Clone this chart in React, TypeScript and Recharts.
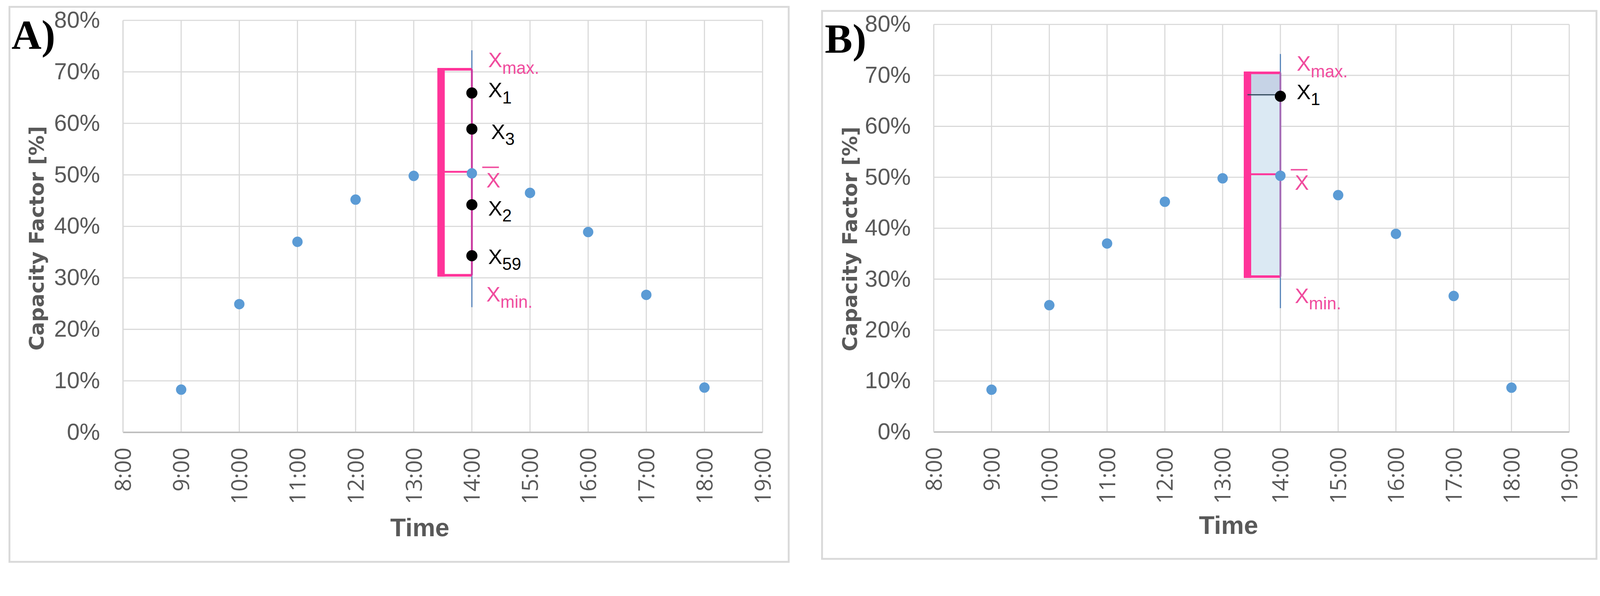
import React from "react";
import {
  ScatterChart, Scatter, XAxis, YAxis, CartesianGrid,
  ReferenceLine, ReferenceDot, ReferenceArea,
} from "recharts";

// hourly capacity factor, same day in both panels
const hours = [9, 10, 11, 12, 13, 14, 15, 16, 17, 18];
const capacity = [8.3, 24.9, 37.0, 45.2, 49.8, 50.3, 46.5, 38.9, 26.7, 8.7];

const hourTicks = [8, 9, 10, 11, 12, 13, 14, 15, 16, 17, 18, 19];
const percentTicks = [0, 10, 20, 30, 40, 50, 60, 70, 80];

// 14:00 sample distribution
const sampleNames = ["1", "3", "2", "59"];
const sampleValues = [65.9, 58.9, 44.2, 34.3];
const xMaxValue = 70.5;
const xMinValue = 30.5;
const xMeanValue = 50.6;
const spreadRange = [24.3, 74.2];
const focusHour = 14;

const points = hours.map((h, i) => ({ hour: h, cf: capacity[i] }));

const C = {
  grid: "#d9d9d9",
  axis: "#bfbfbf",
  text: "#595959",
  dot: "#5b9bd5",
  spread: "#4f7fb8",
  pink: "#ff3399",
  pinkText: "#f04c9e",
  magenta: "#c8389f",
  purple: "#a56cb6",
  fill: "#dbe9f3",
  fillTop: "#c6d3e6",
};

const NARROW = "'Liberation Sans Narrow', 'Liberation Sans', Arial, sans-serif";

// the page is laid out in reference pixels and scaled to the viewport
const PAGE_SCALE = 4096 / 4318;

function HourTick({ x, y, payload }: any) {
  return (
    <text x={x} y={y} transform={`rotate(-90, ${x}, ${y})`} textAnchor="end" dy="0.36em"
      fill={C.text} fontSize={60} fontFamily="'Open Sans', sans-serif">
      {payload.value}:00
    </text>
  );
}

function PercentTick({ x, y, payload }: any) {
  return (
    <text x={x} y={y} textAnchor="end" dy="0.32em" fill={C.text} fontSize={62} fontFamily={NARROW}>
      {payload.value}%
    </text>
  );
}

function SubLabel(props: any) {
  const { viewBox, main, sub, dx, dy, subDy = 16, color, bar } = props;
  const cx = viewBox.x + (viewBox.width || 0) / 2;
  const cy = viewBox.y + (viewBox.height || 0) / 2;
  const x = cx + dx;
  const y = cy + dy;
  return (
    <g>
      {bar && <line x1={x - 11} x2={x + 34} y1={y - 54} y2={y - 54} stroke={color} strokeWidth={4} />}
      <text x={x} y={y} fill={color} fontSize={57} fontFamily="'Liberation Sans', Arial, sans-serif">
        {main}
        {sub && <tspan dy={subDy} fontSize={46}>{sub}</tspan>}
      </text>
    </g>
  );
}

function AxisTitleY({ viewBox, bx, shift }: any) {
  const x = viewBox.x + bx;
  const y = viewBox.y + viewBox.height / 2 + shift;
  return (
    <text x={x} y={y} transform={`rotate(-90, ${x}, ${y})`} textAnchor="middle" fill={C.text}
      fontSize={55} fontWeight="bold" fontFamily="'DejaVu Sans', sans-serif">
      Capacity Factor [%]
    </text>
  );
}

function AxisTitleX({ viewBox, base }: any) {
  return (
    <text x={viewBox.x + viewBox.width / 2 - 62} y={viewBox.y + base} textAnchor="middle" fill={C.text}
      fontSize={69} fontWeight="bold" fontFamily="'Liberation Sans', Arial, sans-serif">
      Time
    </text>
  );
}

function Panel({ variant, width, height, margin, yWidth, xHeight, yTitleX, yTitleShift, xTitleBase, barHour }: any) {
  const bracketEnd = barHour - 0.06;
  return (
    <ScatterChart width={width} height={height} margin={margin}>
      <CartesianGrid stroke={C.grid} strokeWidth={3} />
      <XAxis type="number" dataKey="hour" domain={[8, 19]} ticks={hourTicks} interval={0}
        tick={<HourTick />} tickLine={false} tickSize={0} tickMargin={41} height={xHeight}
        axisLine={{ stroke: C.axis, strokeWidth: 4 }}
        label={{ content: (p: any) => <AxisTitleX {...p} base={xTitleBase} /> }} />
      <YAxis type="number" dataKey="cf" domain={[0, 80]} ticks={percentTicks} interval={0}
        tick={<PercentTick />} tickLine={false} tickSize={0} tickMargin={62} width={yWidth}
        axisLine={{ stroke: C.grid, strokeWidth: 3 }}
        label={{ content: (p: any) => <AxisTitleY {...p} bx={yTitleX} shift={yTitleShift} /> }} />

      {variant === "B" && (
        <ReferenceArea x1={barHour} x2={focusHour} y1={xMinValue} y2={xMaxValue} fill={C.fill} fillOpacity={1} stroke="none" />
      )}
      {variant === "B" && (
        <ReferenceArea x1={barHour} x2={focusHour} y1={sampleValues[0]} y2={xMaxValue} fill={C.fillTop} fillOpacity={1} stroke="none" />
      )}

      <ReferenceLine segment={[{ x: focusHour, y: spreadRange[0] }, { x: focusHour, y: spreadRange[1] }]}
        stroke={C.spread} strokeWidth={3} />

      {/* bracket */}
      <ReferenceLine segment={[{ x: bracketEnd, y: xMaxValue }, { x: focusHour, y: xMaxValue }]} stroke={C.pink} strokeWidth={7} />
      <ReferenceLine segment={[{ x: bracketEnd, y: xMinValue }, { x: focusHour, y: xMinValue }]} stroke={C.pink} strokeWidth={7} />
      <ReferenceLine segment={[{ x: barHour, y: xMinValue - 0.25 }, { x: barHour, y: xMaxValue + 0.25 }]} stroke={C.pink} strokeWidth={20} />
      <ReferenceLine segment={[{ x: focusHour, y: xMinValue }, { x: focusHour, y: xMaxValue }]}
        stroke={variant === "B" ? C.purple : C.magenta} strokeWidth={5} />
      <ReferenceLine segment={[{ x: barHour, y: xMeanValue }, { x: focusHour, y: xMeanValue }]} stroke={C.pink} strokeWidth={5} />

      {variant === "B" && (
        <ReferenceLine segment={[{ x: barHour, y: sampleValues[0] + 0.3 }, { x: focusHour, y: sampleValues[0] + 0.3 }]}
          stroke="#2e4656" strokeWidth={3} />
      )}

      <Scatter data={points} isAnimationActive={false}
        shape={(p: any) => <circle cx={p.cx} cy={p.cy} r={14} fill={C.dot} />} />

      {(variant === "A" ? sampleValues : sampleValues.slice(0, 1)).map((v, i) => (
        <ReferenceDot key={sampleNames[i]} x={focusHour} y={v} r={15} fill="#000" stroke="none"
          label={<SubLabel main="X" sub={sampleNames[i]} color="#000"
            dx={variant === "A" && i === 1 ? 52 : 44} dy={[12, 27, 29, 22][i] - (variant === "B" ? 4 : 0)} subDy={16} />} />
      ))}

      <ReferenceDot x={focusHour} y={xMaxValue} r={0} stroke="none"
        label={<SubLabel main="X" sub="max." color={C.pinkText} dx={44} dy={-6} subDy={18} />} />
      <ReferenceDot x={focusHour} y={xMeanValue} r={0} stroke="none"
        label={<SubLabel main="X" color={C.pinkText} dx={39} dy={42} bar />} />
      <ReferenceDot x={focusHour} y={xMinValue} r={0} stroke="none"
        label={<SubLabel main="X" sub="min." color={C.pinkText} dx={39} dy={71} subDy={17} />} />
    </ScatterChart>
  );
}

const box = (left: number, top: number, width: number, height: number): React.CSSProperties => ({
  position: "absolute", left, top, width, height,
});

const letterStyle: React.CSSProperties = {
  position: "absolute", fontFamily: "'Liberation Serif', 'Times New Roman', serif",
  fontWeight: "bold", fontSize: 112, lineHeight: 1, color: "#000",
};

export default function App() {
  return (
    <div style={{ position: "absolute", left: 0, top: 0, width: 4318, height: 1526, background: "#fff", overflow: "hidden",
      transform: `scale(${PAGE_SCALE})`, transformOrigin: "0 0" }}>
      <div style={{ ...box(23, 16, 2108, 1503), border: `5px solid ${C.grid}`, boxSizing: "border-box" }} />
      <div style={{ ...box(2216, 27, 2095, 1484), border: `5px solid ${C.grid}`, boxSizing: "border-box" }} />

      <div style={box(23, 16, 2108, 1503)}>
        <Panel variant="A" width={2108} height={1503} margin={{ top: 39, right: 73, left: 0, bottom: 0 }}
          yWidth={309} xHeight={352} yTitleX={95} yTitleShift={32} xTitleBase={280} barHour={13.47} />
      </div>
      <div style={box(2216, 27, 2095, 1484)}>
        <Panel variant="B" width={2095} height={1484} margin={{ top: 39, right: 76, left: 0, bottom: 0 }}
          yWidth={304} xHeight={345} yTitleX={97} yTitleShift={29} xTitleBase={275} barHour={13.43} />
      </div>

      <div style={{ ...letterStyle, left: 31, top: 38 }}>A)</div>
      <div style={{ ...letterStyle, left: 2226, top: 48 }}>B)</div>
    </div>
  );
}
